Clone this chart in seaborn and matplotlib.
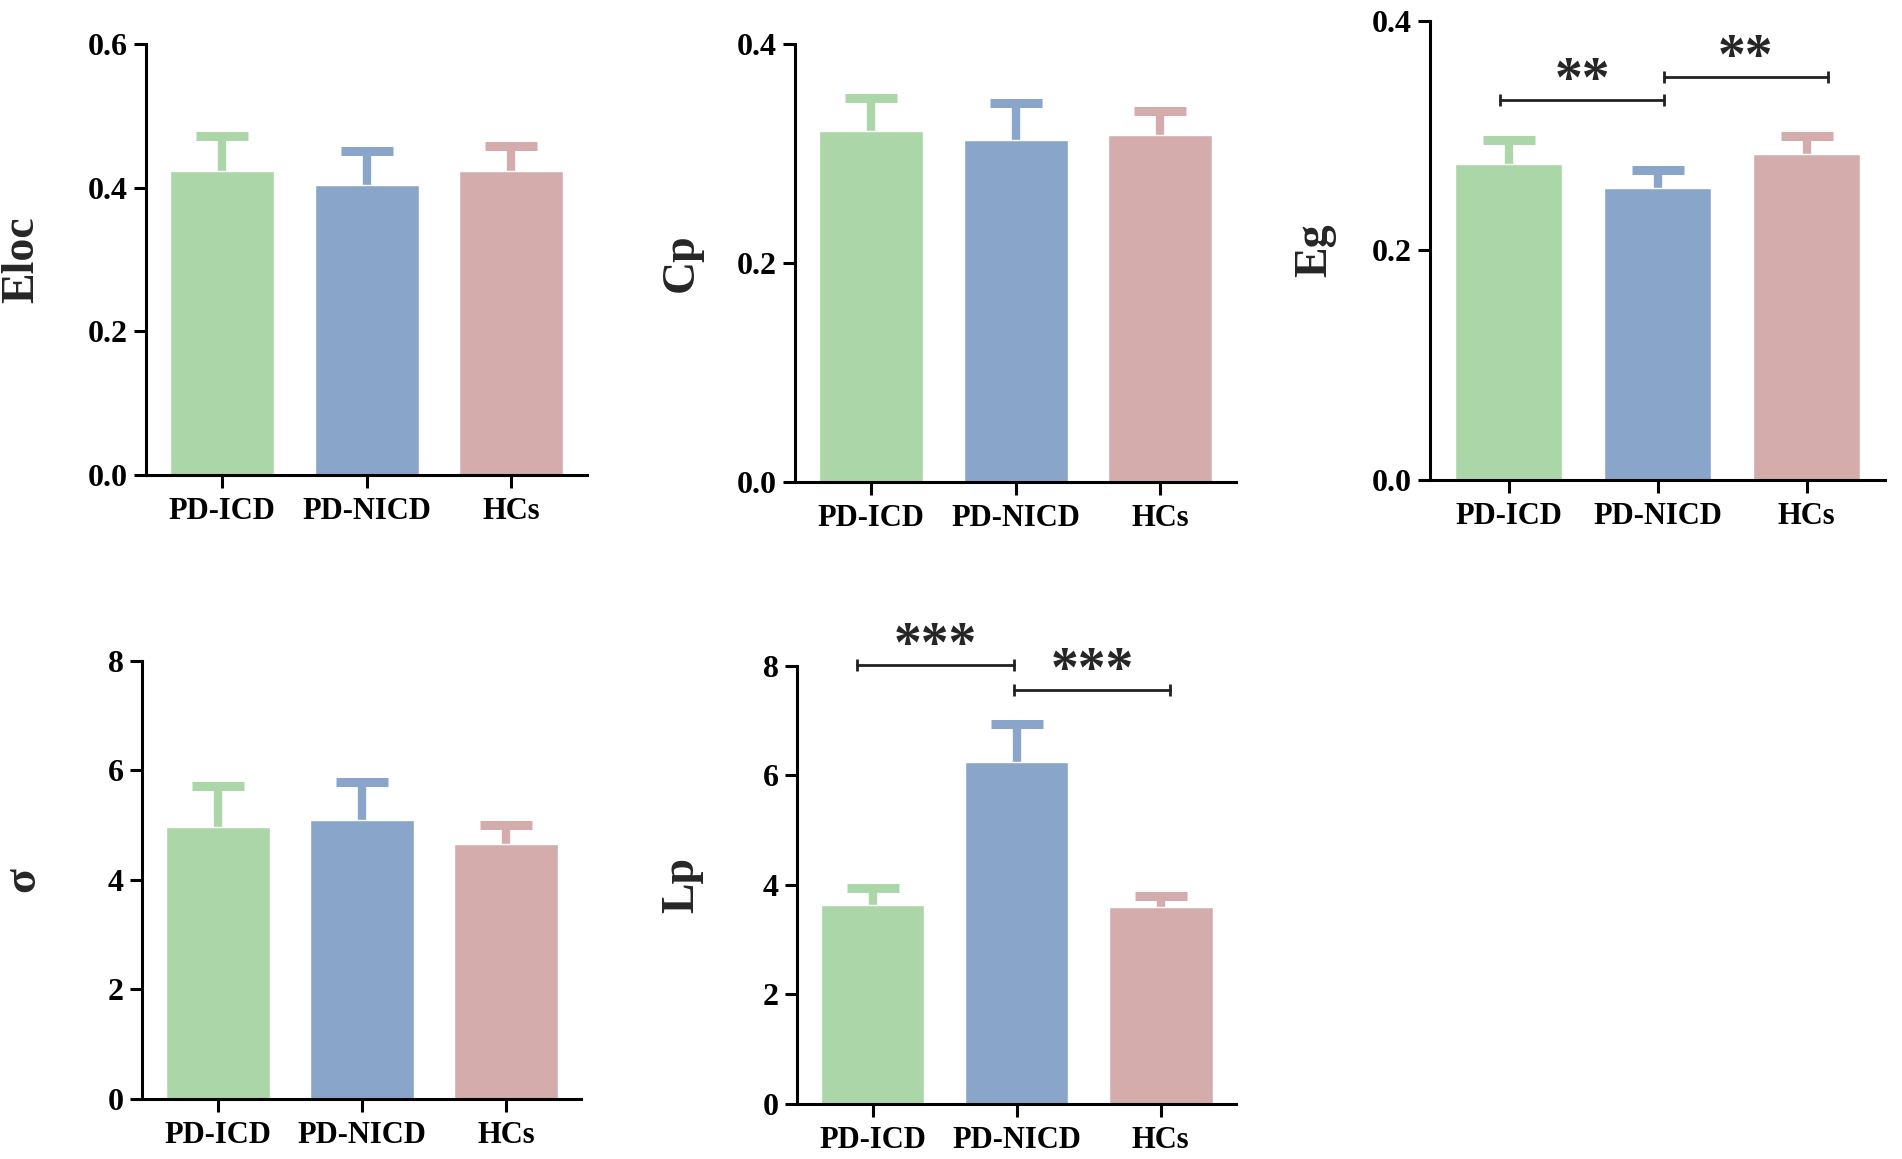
import matplotlib
matplotlib.use("Agg")
import matplotlib.pyplot as plt
import seaborn as sns
import numpy as np
import pandas as pd

groups = ["PD-ICD", "PD-NICD", "HCs"]
colors = ["#abd6a7", "#89a6ca", "#d4acac"]

eloc_mean = [0.423, 0.404, 0.423]
eloc_err = [0.049, 0.047, 0.035]
cp_mean = [0.321, 0.312, 0.317]
cp_err = [0.030, 0.034, 0.022]
eg_mean = [0.275, 0.254, 0.284]
eg_err = [0.021, 0.016, 0.016]
sigma_mean = [4.96, 5.10, 4.65]
sigma_err = [0.76, 0.68, 0.35]
lp_mean = [3.63, 6.25, 3.59]
lp_err = [0.31, 0.68, 0.21]

# significance brackets: (left end, right end, height, label)
eg_sig = [(-0.055, 1.04, 0.331, "**"), (1.04, 2.14, 0.351, "**")]
lp_sig = [(-0.11, 0.98, 8.02, "***"), (0.98, 2.065, 7.56, "***")]

sns.set_style("ticks")
plt.rcParams["font.family"] = ["Liberation Serif", "DejaVu Serif"]
plt.rcParams["font.weight"] = "bold"

fig = plt.figure(figsize=(19.02, 11.59), dpi=100)

panels = [
    # rect, label, means, errs, ylim top, yticks, tick format, brackets, ylabel x
    ([0.0768, 0.590, 0.232, 0.372], "Eloc", eloc_mean, eloc_err, 0.6, [0, 0.2, 0.4, 0.6], "{:.1f}", None, -0.28),
    ([0.418, 0.584, 0.232, 0.378], "Cp", cp_mean, cp_err, 0.4, [0, 0.2, 0.4], "{:.1f}", None, -0.256),
    ([0.752, 0.586, 0.239, 0.396], "Eg", eg_mean, eg_err, 0.4, [0, 0.2, 0.4], "{:.1f}", eg_sig, -0.253),
    ([0.0747, 0.0518, 0.231, 0.378], "σ", sigma_mean, sigma_err, 8, [0, 2, 4, 6, 8], "{:.0f}", None, -0.27),
    ([0.419, 0.0475, 0.231, 0.378], "Lp", lp_mean, lp_err, 8, [0, 2, 4, 6, 8], "{:.0f}", lp_sig, -0.26),
]

for rect, label, means, errs, ytop, yticks, fmt, sig, labelx in panels:
    ax = fig.add_axes(rect)
    df = pd.DataFrame({"group": groups, "value": means})
    sns.barplot(
        data=df, x="group", y="value", hue="group", palette=colors,
        legend=False, width=0.72, saturation=1, ax=ax, zorder=2,
    )
    for i, (m, e) in enumerate(zip(means, errs)):
        _, caps, _ = ax.errorbar(
            i, m, yerr=[[0], [e]], fmt="none", ecolor=colors[i],
            elinewidth=6, capsize=19, capthick=6.5, zorder=1,
        )
        caps[0].set_visible(False)  # upper cap only
    ax.set_xlim(-0.525, 2.525)
    ax.set_ylim(0, ytop)
    ax.set_yticks(yticks)
    ax.set_yticklabels([fmt.format(t) for t in yticks])
    ax.set_xlabel("")
    ax.set_ylabel(label, fontsize=33, fontweight="bold", va="center")
    ax.yaxis.set_label_coords(labelx, 0.5)
    for s in ["top", "right"]:
        ax.spines[s].set_visible(False)
    for s in ["left", "bottom"]:
        ax.spines[s].set_linewidth(2.2)
        ax.spines[s].set_color("black")
    ax.tick_params(axis="both", direction="out", length=9, width=2.2,
                   labelsize=22, colors="black")
    ax.tick_params(axis="x", pad=7)
    ax.tick_params(axis="y", pad=4, labelsize=23)
    for t in ax.get_xticklabels() + ax.get_yticklabels():
        t.set_fontweight("bold")

    if sig:
        for x1, x2, y, stars in sig:
            ax.plot([x1, x2], [y, y], color="#222222", lw=2, clip_on=False, zorder=3)
            ax.plot([x1, x2], [y, y], ls="none", marker="|", markersize=8,
                    markeredgewidth=2, color="#222222", clip_on=False, zorder=3)
            ax.annotate(stars, xy=((x1 + x2) / 2, y), xytext=(0, 3),
                        textcoords="offset points", ha="center", va="baseline",
                        fontsize=40, fontweight="bold", annotation_clip=False)

fig.savefig("out.png", dpi=100)
